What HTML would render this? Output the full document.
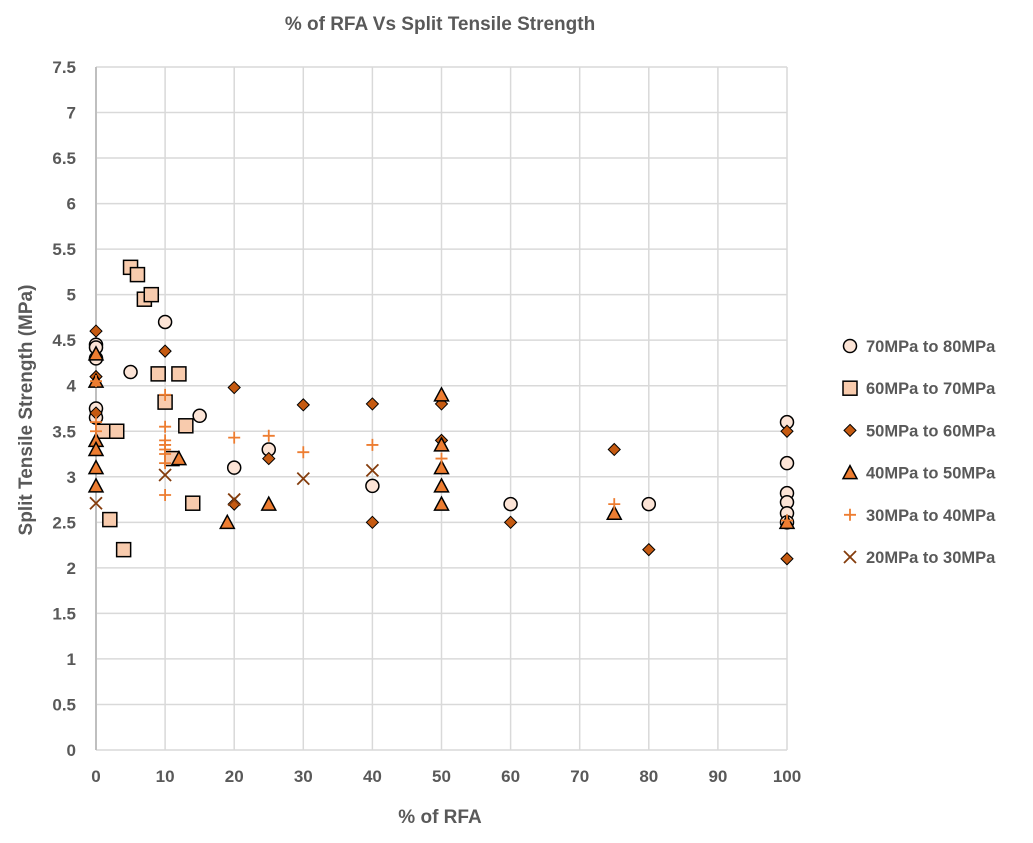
<!DOCTYPE html>
<html><head><meta charset="utf-8"><style>
body{margin:0;background:#fff;font-family:"Liberation Sans",sans-serif}
svg text{font-family:"Liberation Sans",sans-serif;fill:#595959;font-weight:bold}
</style></head><body>
<svg id="c" width="1033" height="838"></svg>
<script>
const xTicks=[0,10,20,30,40,50,60,70,80,90,100];
const yTicks=[0,0.5,1,1.5,2,2.5,3,3.5,4,4.5,5,5.5,6,6.5,7,7.5];
const seriesNames=["70MPa to 80MPa","60MPa to 70MPa","50MPa to 60MPa","40MPa to 50MPa","30MPa to 40MPa","20MPa to 30MPa"];
const s70x=[0,0,0,0,0,5,10,15,20,25,40,60,80,100,100,100,100,100,100];
const s70y=[4.45,4.42,4.3,3.75,3.65,4.15,4.7,3.67,3.1,3.3,2.9,2.7,2.7,3.6,3.15,2.82,2.72,2.6,2.5];
const s60x=[5,6,7,8,9,12,10,13,1,3,11,14,2,4];
const s60y=[5.3,5.22,4.95,5.0,4.13,4.13,3.82,3.56,3.5,3.5,3.2,2.71,2.53,2.2];
const s50x=[0,0,0,10,20,25,30,40,40,50,50,60,75,80,100,100,20];
const s50y=[4.6,4.1,3.7,4.38,3.98,3.2,3.79,3.8,2.5,3.8,3.4,2.5,3.3,2.2,3.5,2.1,2.7];
const s40x=[0,0,0,0,0,0,12,19,25,50,50,50,50,50,75,100];
const s40y=[4.35,4.05,3.4,3.3,3.1,2.9,3.2,2.5,2.7,3.9,3.35,3.1,2.9,2.7,2.6,2.5];
const s30x=[0,0,0,10,10,10,10,10,10,10,10,20,25,30,40,50,75,100];
const s30y=[4.05,3.5,3.6,3.9,3.55,3.4,3.35,3.3,3.25,3.15,2.8,3.43,3.45,3.27,3.35,3.2,2.7,2.52];
const s20x=[0,10,20,30,40];
const s20y=[2.71,3.02,2.75,2.98,3.07];
const svg=document.getElementById('c');const NS='http://www.w3.org/2000/svg';
const X=v=>96+v*6.91, Y=v=>750-v*91.07;
function el(t,a,p){const e=document.createElementNS(NS,t);for(const k in a)e.setAttribute(k,a[k]);(p||svg).appendChild(e);return e;}
yTicks.forEach(v=>{const l=el('line',{x1:96,x2:787,y1:Y(v),y2:Y(v),stroke:'#d9d9d9','stroke-width':1.5});


const t=el('text',{x:76,y:Y(v)+6,'text-anchor':'end','font-size':17});t.textContent=v;

});
xTicks.forEach(v=>{const l=el('line',{x1:X(v),x2:X(v),y1:67,y2:750,stroke:'#d9d9d9','stroke-width':1.5});


const t=el('text',{x:X(v),y:782,'text-anchor':'middle','font-size':17});t.textContent=v;

});
el('line',{x1:96,x2:96,y1:67,y2:750,stroke:'#bfbfbf','stroke-width':2});
function mark(k,x,y,g){
 if(k==0)return el('circle',{cx:x,cy:y,r:6.5,fill:'#fce4d6',stroke:'#000','stroke-width':1.5},g);
 if(k==1)return el('rect',{x:x-7,y:y-7,width:14,height:14,fill:'#f8cbad',stroke:'#000','stroke-width':1.5},g);
 if(k==2)return el('path',{d:`M${x} ${y-6}L${x+6} ${y}L${x} ${y+6}L${x-6} ${y}Z`,fill:'#c55a11',stroke:'#000','stroke-width':1},g);
 if(k==3)return el('path',{d:`M${x} ${y-7}L${x+7} ${y+6}L${x-7} ${y+6}Z`,fill:'#ed7d31',stroke:'#000','stroke-width':1.5},g);
 if(k==4)return el('path',{d:`M${x-6} ${y}H${x+6}M${x} ${y-6}V${y+6}`,stroke:'#ed7d31','stroke-width':1.8},g);
 return el('path',{d:`M${x-6} ${y-6}L${x+6} ${y+6}M${x+6} ${y-6}L${x-6} ${y+6}`,stroke:'#843c0c','stroke-width':1.8},g);
}
const S=[[s70x,s70y],[s60x,s60y],[s50x,s50y],[s40x,s40y],[s30x,s30y],[s20x,s20y]];
S.forEach((s,k)=>{const g=el('g',{});


s[0].forEach((xv,i)=>{const m=mark(k,X(xv),Y(s[1][i]),g);

});
const ly=346+k*42.2;const lg=el('g',{});


mark(k,850,ly,lg);const t=el('text',{x:866,y:ly+6,'font-size':16.5},lg);t.textContent=seriesNames[k];});
let t=el('text',{x:440,y:30,'text-anchor':'middle','font-size':19});t.textContent='% of RFA Vs Split Tensile Strength';


t=el('text',{x:440,y:823,'text-anchor':'middle','font-size':19});t.textContent='% of RFA';


t=el('text',{x:0,y:0,'text-anchor':'middle','font-size':19,transform:'translate(32,410) rotate(-90)'});t.textContent='Split Tensile Strength (MPa)';


</script>
</body></html>
